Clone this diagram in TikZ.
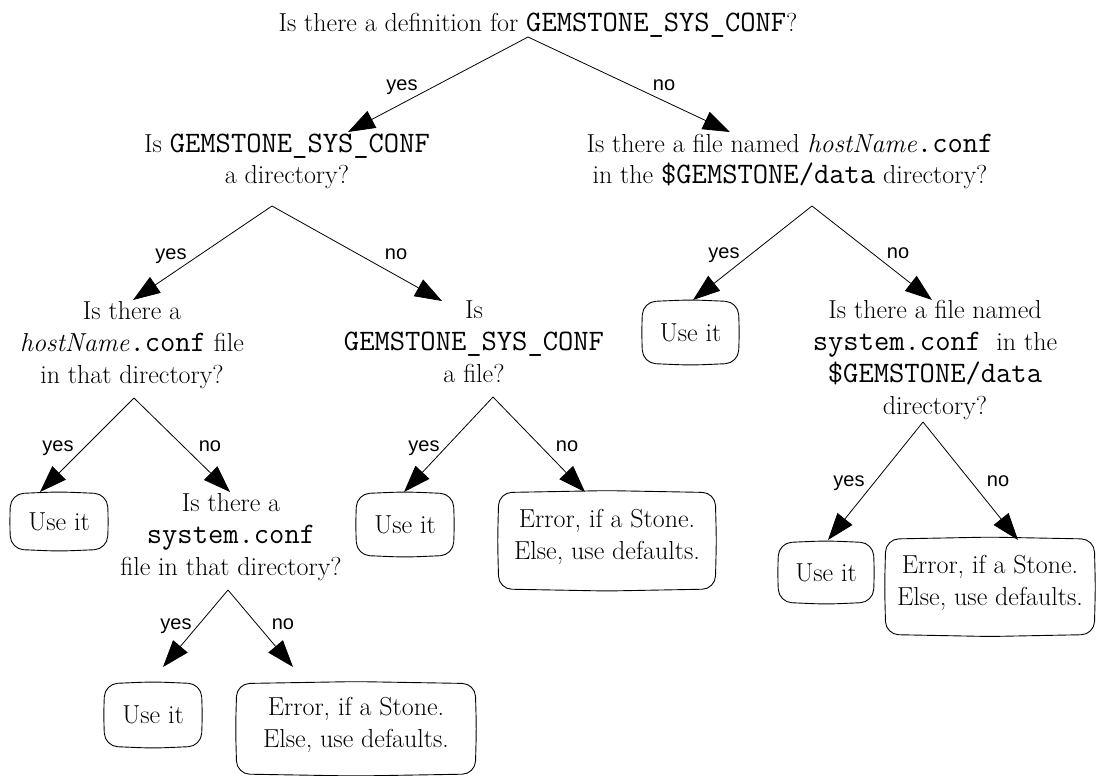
\documentclass[tikz,border=0pt]{standalone}
\usepackage{fontspec}
\newfontfamily\lblfont{Liberation Sans}
\usetikzlibrary{arrows.meta}
\newcommand{\ql}[1]{\begin{tabular}[t]{@{}c@{}}#1\end{tabular}}
\newcommand{\mt}[1]{{\fontsize{29.7pt}{32pt}\selectfont\ttfamily #1}}
\newcommand{\gsc}{\mt{GEMSTONE\_SYS\_CONF}}
\newcommand{\softbox}[1]{%
  \draw[boxline] ([xshift=-1.2pt]#1.west) -- (#1.north west) -- ([yshift=2pt]#1.north)
    -- (#1.north east) -- ([xshift=1.2pt]#1.east) -- (#1.south east)
    -- ([yshift=-2pt]#1.south) -- (#1.south west) -- cycle;}
\tikzset{
  q/.style={anchor=base, inner sep=0pt, font=\fontsize{26pt}{32pt}\selectfont},
  lbl/.style={anchor=base, inner sep=0pt, font=\lblfont\fontsize{20pt}{24pt}\selectfont},
  usebox/.style={inner sep=0pt, font=\fontsize{26pt}{32pt}\selectfont, minimum width=96pt},
  errbox/.style={anchor=base, inner sep=0pt, font=\fontsize{26pt}{32pt}\selectfont, text depth=50pt},
  boxline/.style={line width=0.9pt, rounded corners=13pt},
  arr/.style={line width=0.8pt, -{Triangle[length=27pt,width=19pt]}},
}
\begin{document}
\begin{tikzpicture}[x=1pt,y=-1pt]
\fill[white] (0,0) rectangle (1096,776);
\useasboundingbox (0,0) rectangle (1096,776);

% question nodes
\node[q] (root) at (538,32) {Is there a definition for \gsc?};
\node[q] (qa) at (287,152) {\ql{Is \gsc\\ a directory?}};
\node[q] (qe) at (790,152) {\ql{Is there a file named \textit{hostName}\mt{.conf}\\ in the \mt{\$GEMSTONE/data} directory?}};
\node[q] (qb) at (132,319) {\ql{Is there a\\ \textit{hostName}\mt{.conf} file\\ in that directory?}};
\node[q] (qc) at (474,318) {\ql{Is\\ \gsc\\ a file?}};
\node[q] (qf) at (935,318) {\ql{Is there a file named\\ \mt{system.conf\ }in the\\ \mt{\$GEMSTONE/data}\\ directory?}};
\node[q] (qd) at (231,511) {\ql{Is there a\\ \mt{system.conf}\\ file in that directory?}};

% result boxes
\node[usebox, minimum height=55pt] (u1) at (59,521.5) {Use it};
\node[usebox, minimum height=62pt] (u2) at (153,715) {Use it};
\node[usebox, minimum height=61pt] (u3) at (405,524.5) {Use it};
\node[usebox, minimum height=61pt, minimum width=95pt] (u4) at (690.5,332.5) {Use it};
\node[usebox, minimum height=59pt, minimum width=94pt] (u5) at (826,572.5) {Use it};
\node[errbox, minimum width=238pt, minimum height=90pt] (e1) at (356,715) {\ql{Error, if a Stone.\\ Else, use defaults.}};
\node[errbox, minimum width=216pt, minimum height=96pt] (e2) at (607,527) {\ql{Error, if a Stone.\\ Else, use defaults.}};
\node[errbox, minimum width=208pt, minimum height=95pt] (e3) at (990,573) {\ql{Error, if a Stone.\\ Else, use defaults.}};
\foreach \b in {u1,u2,u3,u4,u5,e1,e2,e3}{\softbox{\b}}

% branch points and arrow ends
\coordinate (r0) at (528,37);
\coordinate (a0) at (272,206);
\coordinate (e0) at (812,206);
\coordinate (b0) at (134,398);
\coordinate (c0) at (493,397);
\coordinate (f0) at (923,422);
\coordinate (d0) at (228,590);

\coordinate (tqa) at (348,132);
\coordinate (tqe) at (730,132);
\coordinate (tqb) at (133,300);
\coordinate (tqc) at (442,301);
\coordinate (tu4) at (693,300);
\coordinate (tqf) at (932,300);
\coordinate (tu1) at (40,492);
\coordinate (tqd) at (230,492);
\coordinate (tu3) at (404,492);
\coordinate (te2) at (585,492);
\coordinate (tu5) at (828,540);
\coordinate (te3) at (1018,540);
\coordinate (tu2) at (163,667);
\coordinate (te1) at (293,667);

\draw[arr] (r0) -- (tqa);
\draw[arr] (r0) -- (tqe);
\draw[arr] (a0) -- (tqb);
\draw[arr] (a0) -- (tqc);
\draw[arr] (e0) -- (tu4);
\draw[arr] (e0) -- (tqf);
\draw[arr] (b0) -- (tu1);
\draw[arr] (b0) -- (tqd);
\draw[arr] (c0) -- (tu3);
\draw[arr] (c0) -- (te2);
\draw[arr] (f0) -- (tu5);
\draw[arr] (f0) -- (te3);
\draw[arr] (d0) -- (tu2);
\draw[arr] (d0) -- (te1);

% labels
\node[lbl] (l1) at (402,91) {yes};
\node[lbl] (l2) at (664,91) {no};
\node[lbl] (l3) at (171,259) {yes};
\node[lbl] (l4) at (396,259) {no};
\node[lbl] (l5) at (724,258) {yes};
\node[lbl] (l6) at (898,258) {no};
\node[lbl] (l7) at (58,451) {yes};
\node[lbl] (l8) at (210,451) {no};
\node[lbl] (l9) at (424,451) {yes};
\node[lbl] (l10) at (567,451) {no};
\node[lbl] (l11) at (849,486) {yes};
\node[lbl] (l12) at (998,486) {no};
\node[lbl] (l13) at (176,629) {yes};
\node[lbl] (l14) at (283,629) {no};
\end{tikzpicture}
\end{document}
